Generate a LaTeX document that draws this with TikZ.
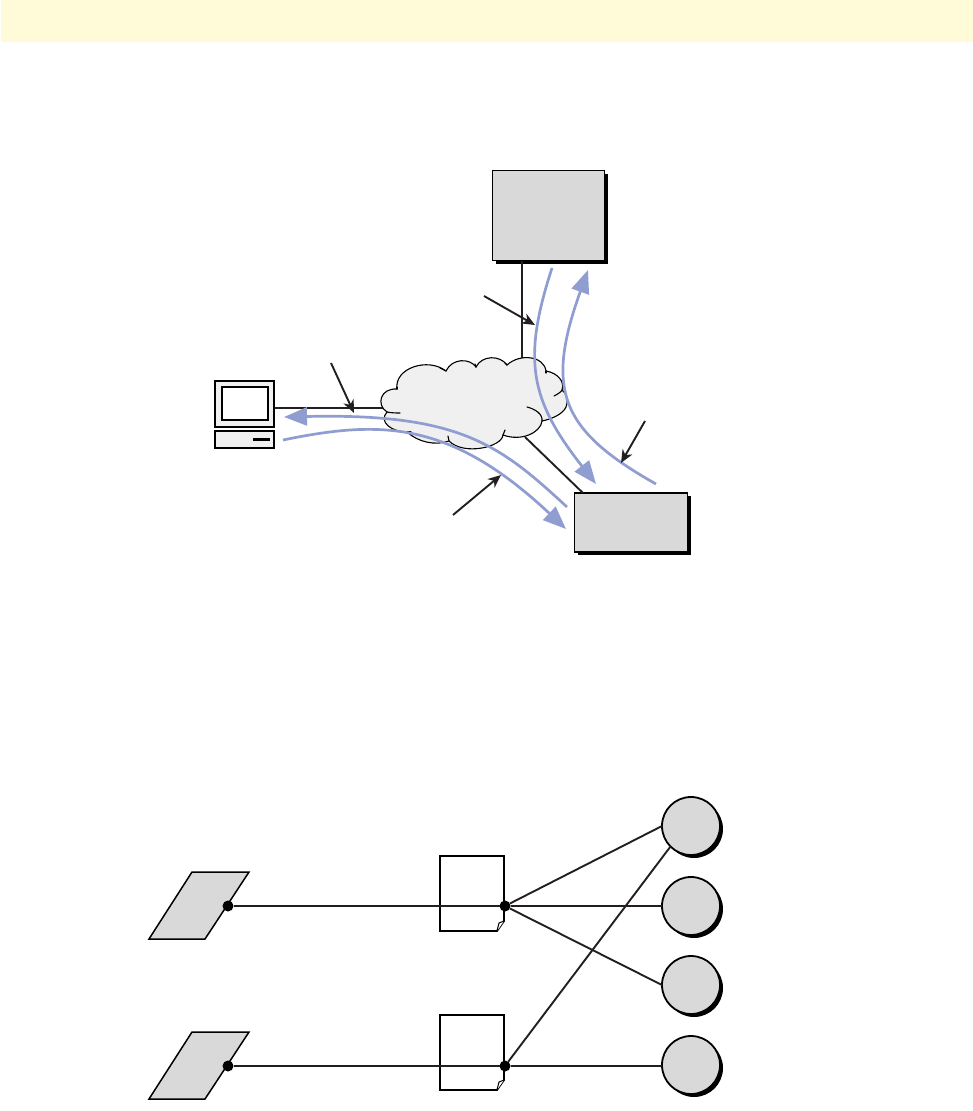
\documentclass[tikz,border=0pt]{standalone}
\usetikzlibrary{arrows.meta,shadows}
\definecolor{band}{HTML}{FFFBD8}
\definecolor{flow}{HTML}{8F9DD0}
\definecolor{ink}{HTML}{231F20}
\definecolor{boxgray}{HTML}{D9D9D9}
\definecolor{cloudgray}{HTML}{F0F0F0}
\tikzset{
  every picture/.style={x=1pt,y=-1pt},
  shadowed/.style={drop shadow={shadow xshift=3pt,shadow yshift=-3pt,fill=black,opacity=1}},
  graybox/.style={draw=black,line width=1.5pt,fill=boxgray,inner sep=0pt,outer sep=0pt,shadowed},
  graycircle/.style={circle,draw=black,line width=1.8pt,fill=boxgray,inner sep=0pt,outer sep=0pt,minimum size=58pt,shadowed},
  link/.style={draw=ink,line width=1.9pt},
  flowline/.style={draw=flow,line width=2.7pt,-{Triangle[length=23pt,width=18pt]}},
  callout/.style={draw=ink,line width=1.9pt,-{Stealth[length=13pt,width=11pt,inset=4pt]}},
  dot/.style={circle,fill=black,inner sep=0pt,minimum size=11pt,outer sep=0pt},
  pc/.style={draw=black,line width=1.8pt,fill=cloudgray},
  para/.style={draw=black,line width=1.5pt,fill=boxgray},
  doc/.style={draw=black,line width=1.8pt,fill=white},
  cloudline/.style={draw=black,line width=1.1pt,line cap=round}
}
\begin{document}
\begin{tikzpicture}
\useasboundingbox (0,0) rectangle (973,1111);
\fill[white] (0,0) rectangle (973,1111);
\fill[band] (1,0) rectangle (973,42);

% upper diagram: end points
\coordinate (pcport) at (274,408);
\coordinate (cloudleft) at (386,408);
\coordinate (cloudtop) at (522,359);
\coordinate (cloudlow) at (525,437);
\node[graybox,minimum width=112pt,minimum height=90pt] (head) at (548.5,215.5) {};
\node[graybox,minimum width=113pt,minimum height=59pt] (branch) at (631,522.5) {};
\draw[link] (pcport) -- (cloudleft);
\draw[link] (head.south -| cloudtop) -- (cloudtop);
\draw[link] (cloudlow) -- (583,493);

% cloud
\path[fill=cloudgray,cloudline]
  (387,412) .. controls (376,405) and (380,388) .. (397,389)
  .. controls (394,368) and (428,357) .. (446,371)
  .. controls (452,358) and (470,358) .. (476,367)
  .. controls (482,355) and (500,355) .. (507,365)
  .. controls (520,353) and (544,356) .. (546,371)
  .. controls (558,373) and (565,382) .. (562,390)
  .. controls (568,395) and (568,402) .. (566,407)
  .. controls (563,414) and (552,419) .. (542,421)
  .. controls (541,432) and (522,442) .. (503,435)
  .. controls (502,447) and (464,456) .. (449,441)
  .. controls (435,446) and (418,442) .. (407,432)
  .. controls (392,432) and (378,422) .. (387,412) -- cycle;
\draw[cloudline] (387,412) .. controls (392,413) and (396,413) .. (400,413);
\draw[cloudline] (397,389) -- (397,387);
\draw[cloudline] (440,368) -- (446,371);
\draw[cloudline] (475,364) -- (476,367);
\draw[cloudline] (505,363) -- (507,365);
\draw[cloudline] (546,371) -- (546,373);
\draw[cloudline] (562,390) .. controls (561,392) and (558,394) .. (554,396);
\draw[cloudline] (527,407) .. controls (535,409) and (543,414) .. (542,421);
\draw[cloudline] (503,435) -- (505,430);
\draw[cloudline] (449,441) -- (448,436);
\draw[cloudline] (407,432) -- (411,432);

% computer
\path[pc] (215,381) rectangle (274,427);
\path[pc,fill=white] (222,387) rectangle (268,420);
\path[pc] (215,431) rectangle (274,448);
\fill[black] (253,438) rectangle (270,441);

% traffic flows
\draw[flowline] (567,507) .. controls (500,445) and (460,413) .. (284,417);
\draw[flowline] (283,440) .. controls (380,420) and (450,420) .. (566,529);
\draw[flowline] (552,268) .. controls (522,360) and (530,400) .. (596,484);
\draw[flowline] (656,484) .. controls (560,430) and (545,390) .. (588,270);

% callouts
\draw[callout] (331,363) -- (354,413);
\draw[callout] (484,296) -- (535,325);
\draw[callout] (645,421) -- (621,463);
\draw[callout] (453,515) -- (501,475);

% lower diagram
\path[para] (149,939) -- (192,872) -- (249,872) -- (205,939) -- cycle;
\path[para] (149,1099) -- (192,1032) -- (249,1032) -- (205,1099) -- cycle;
\path[doc] (440,856) -- (504,856) -- (504,921) -- (497,931) -- (440,931) -- cycle;
\path[doc,line width=1pt] (497,931) -- (499,923) -- (504,921);
\path[doc] (440,1015) -- (504,1015) -- (504,1080) -- (497,1090) -- (440,1090) -- cycle;
\path[doc,line width=1pt] (497,1090) -- (499,1082) -- (504,1080);

\node[graycircle] (c1) at (691,826) {};
\node[graycircle] (c2) at (691,906) {};
\node[graycircle] (c3) at (691,985) {};
\node[graycircle] (c4) at (691,1065) {};
\node[dot] (p1) at (228,906) {};
\node[dot] (p2) at (228,1066) {};
\node[dot] (d1) at (505,906) {};
\node[dot] (d2) at (505,1066) {};
\draw[link] (p1) -- (d1);
\draw[link] (p2) -- (d2);
\draw[link] (d1) -- (c1.west);
\draw[link] (d1) -- (c2.west);
\draw[link] (d1) -- (c3.west);
\draw[link] (d2) -- (c1.225);
\draw[link] (d2) -- (d2 -| c4.west);
\end{tikzpicture}
\end{document}
